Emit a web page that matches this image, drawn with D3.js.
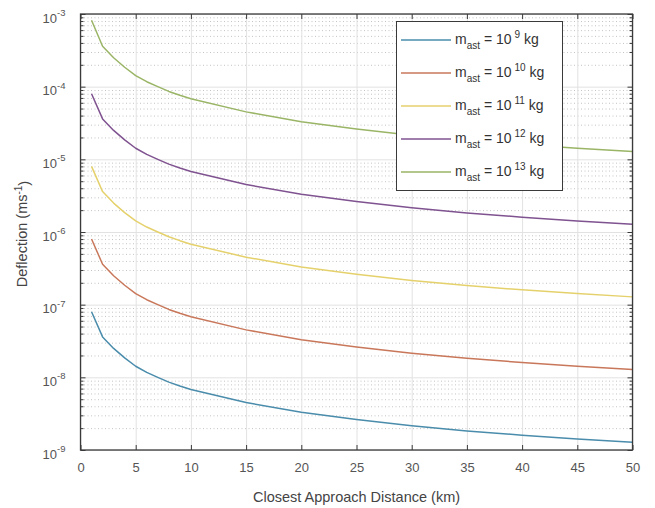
<!DOCTYPE html>
<html>
<head>
<meta charset="utf-8">
<script src="https://cdn.jsdelivr.net/npm/d3@7"></script>
<style>
  body { margin: 0; background: #fff; }
  svg { font-family: "Liberation Sans", Arial, sans-serif; }
  .tick text { fill: #555; font-size: 13px; }
</style>
</head>
<body>
<div class="wrapper"></div>
<script>
var width = 655,
  height = 508;
var margin = { left: 80.5, right: 22.5, top: 14, bottom: 58 };

// closest approach distance (km)
var distance = [1, 2, 3, 4, 5, 6, 7, 8, 9, 10, 15, 20, 25, 30, 35, 40, 45, 50];

// deflection (m/s), one array per asteroid mass
var m9 = [8.0e-8, 3.6e-8, 2.5e-8, 1.85e-8, 1.42e-8, 1.17e-8, 1.0e-8, 8.6e-9, 7.6e-9, 6.8e-9,
  4.5e-9, 3.3e-9, 2.62e-9, 2.15e-9, 1.83e-9, 1.6e-9, 1.42e-9, 1.28e-9];
var m10 = [8.0e-7, 3.6e-7, 2.5e-7, 1.85e-7, 1.42e-7, 1.17e-7, 1.0e-7, 8.6e-8, 7.6e-8, 6.8e-8,
  4.5e-8, 3.3e-8, 2.62e-8, 2.15e-8, 1.83e-8, 1.6e-8, 1.42e-8, 1.28e-8];
var m11 = [8.0e-6, 3.6e-6, 2.5e-6, 1.85e-6, 1.42e-6, 1.17e-6, 1.0e-6, 8.6e-7, 7.6e-7, 6.8e-7,
  4.5e-7, 3.3e-7, 2.62e-7, 2.15e-7, 1.83e-7, 1.6e-7, 1.42e-7, 1.28e-7];
var m12 = [8.0e-5, 3.6e-5, 2.5e-5, 1.85e-5, 1.42e-5, 1.17e-5, 1.0e-5, 8.6e-6, 7.6e-6, 6.8e-6,
  4.5e-6, 3.3e-6, 2.62e-6, 2.15e-6, 1.83e-6, 1.6e-6, 1.42e-6, 1.28e-6];
var m13 = [8.2e-4, 3.6e-4, 2.5e-4, 1.85e-4, 1.42e-4, 1.17e-4, 1.0e-4, 8.6e-5, 7.6e-5, 6.8e-5,
  4.5e-5, 3.3e-5, 2.62e-5, 2.15e-5, 1.83e-5, 1.6e-5, 1.42e-5, 1.28e-5];

var seriesNames = ["9", "10", "11", "12", "13"];
var seriesValues = [m9, m10, m11, m12, m13];
var colors = ["#4a8cab", "#c9775a", "#e5d16c", "#7f5290", "#9ab566"];

var xTicks = [0, 5, 10, 15, 20, 25, 30, 35, 40, 45, 50];
var yDecades = [1e-9, 1e-8, 1e-7, 1e-6, 1e-5, 1e-4, 1e-3];
var yExponents = ["-9", "-8", "-7", "-6", "-5", "-4", "-3"];

var svg = d3.select(".wrapper").append("svg")
  .attr("width", width)
  .attr("height", height);

var x = d3.scaleLinear().domain([0, 50]).range([margin.left, width - margin.right]);
var y = d3.scaleLog().domain([1e-9, 1e-3]).range([height - margin.bottom, margin.top]);

var plotW = width - margin.left - margin.right;
var plotH = height - margin.top - margin.bottom;

// minor y values, 2..9 times each decade
var yMinor = [];
yDecades.slice(0, -1).forEach(d => {
  for (var k = 2; k <= 9; k++) yMinor.push(d * k);
});

// Minor grid, dotted
svg.append("g")
  .attr("transform", `translate(${margin.left},0)`)
  .call(d3.axisLeft(y).tickValues(yMinor).tickSize(-plotW).tickFormat(""))
  .call(g => g.select(".domain").remove())
  .call(g => g.selectAll("line").attr("stroke", "#c4c4c4").attr("stroke-dasharray", "1,2.5"));

// Major grid
svg.append("g")
  .attr("transform", `translate(${margin.left},0)`)
  .call(d3.axisLeft(y).tickValues(yDecades).tickSize(-plotW).tickFormat(""))
  .call(g => g.select(".domain").remove())
  .call(g => g.selectAll("line").attr("stroke", "#e2e2e2"));

svg.append("g")
  .attr("transform", `translate(0,${height - margin.bottom})`)
  .call(d3.axisBottom(x).tickValues(xTicks).tickSize(-plotH).tickFormat(""))
  .call(g => g.select(".domain").remove())
  .call(g => g.selectAll("line").attr("stroke", "#e2e2e2"));

// Lines
var line = d3.line()
  .x((d, i) => x(distance[i]))
  .y(d => y(d));

svg.append("g").selectAll("path")
  .data(seriesValues)
  .join("path")
  .attr("fill", "none")
  .attr("stroke", (d, i) => colors[i])
  .attr("stroke-width", 1.5)
  .attr("stroke-linejoin", "round")
  .attr("d", line);

// Axes with inward ticks
var axisColor = "#3a3a3a";

svg.append("g")
  .attr("transform", `translate(0,${height - margin.bottom})`)
  .call(d3.axisBottom(x).tickValues(xTicks).tickSize(-5).tickSizeOuter(0).tickPadding(13))
  .call(g => g.select(".domain").remove())
  .call(g => g.selectAll("line").attr("stroke", axisColor));

svg.append("g")
  .attr("transform", `translate(0,${margin.top})`)
  .call(d3.axisTop(x).tickValues(xTicks).tickSize(-5).tickFormat(""))
  .call(g => g.select(".domain").remove())
  .call(g => g.selectAll("line").attr("stroke", axisColor));

var yAxisG = svg.append("g")
  .attr("transform", `translate(${margin.left},0)`)
  .call(d3.axisLeft(y).tickValues(yDecades).tickSize(-5).tickPadding(14).tickFormat(""))
  .call(g => g.select(".domain").remove())
  .call(g => g.selectAll("line").attr("stroke", axisColor));

yAxisG.selectAll(".tick text").each(function(d, i) {
  var t = d3.select(this).attr("dy", "0.62em").attr("x", -15);
  t.append("tspan").text("10");
  t.append("tspan").attr("dy", "-0.7em").style("font-size", "9.5px").text(yExponents[i]);
});

svg.append("g")
  .attr("transform", `translate(${margin.left},0)`)
  .call(d3.axisLeft(y).tickValues(yMinor).tickSize(-3).tickFormat(""))
  .call(g => g.select(".domain").remove())
  .call(g => g.selectAll("line").attr("stroke", axisColor));

svg.append("g")
  .attr("transform", `translate(${width - margin.right},0)`)
  .call(d3.axisRight(y).tickValues(yDecades).tickSize(-5).tickFormat(""))
  .call(g => g.select(".domain").remove())
  .call(g => g.selectAll("line").attr("stroke", axisColor));

svg.append("g")
  .attr("transform", `translate(${width - margin.right},0)`)
  .call(d3.axisRight(y).tickValues(yMinor).tickSize(-3).tickFormat(""))
  .call(g => g.select(".domain").remove())
  .call(g => g.selectAll("line").attr("stroke", axisColor));

// Box
svg.append("rect")
  .attr("x", margin.left)
  .attr("y", margin.top)
  .attr("width", plotW)
  .attr("height", plotH)
  .attr("fill", "none")
  .attr("stroke", axisColor)
  .attr("stroke-width", 1.3);

// Axis labels
svg.append("text")
  .attr("x", x(25))
  .attr("y", 502)
  .attr("text-anchor", "middle")
  .attr("fill", "#444")
  .style("font-size", "14.5px")
  .text("Closest Approach Distance (km)");

var yl = svg.append("text")
  .attr("transform", "translate(27,234) rotate(-90)")
  .attr("text-anchor", "middle")
  .attr("fill", "#444")
  .style("font-size", "14.5px");
yl.append("tspan").text("Deflection (ms");
yl.append("tspan").attr("dy", "-0.5em").style("font-size", "10px").text("-1");
yl.append("tspan").attr("dy", "0.5em").text(")");

// Legend
var legend = svg.append("g");
legend.append("rect")
  .attr("x", 396.5)
  .attr("y", 21.5)
  .attr("width", 166)
  .attr("height", 169)
  .attr("fill", "#fff")
  .attr("stroke", axisColor)
  .attr("stroke-width", 1);

var legendY = d3.scalePoint().domain(seriesNames).range([40, 172]);

var entries = legend.selectAll(".entry")
  .data(seriesNames)
  .join("g")
  .attr("class", "entry")
  .attr("transform", d => `translate(0,${legendY(d)})`);

entries.append("line")
  .attr("x1", 401)
  .attr("x2", 451)
  .attr("stroke", (d, i) => colors[i])
  .attr("stroke-width", 1.5);

entries.each(function(d) {
  var t = d3.select(this).append("text")
    .attr("x", 455)
    .attr("y", 4)
    .attr("fill", "#333")
    .style("font-size", "14px");
  t.append("tspan").text("m");
  t.append("tspan").attr("dy", "5").style("font-size", "10px").text("ast");
  t.append("tspan").attr("dy", "-5").text(" = 10");
  t.append("tspan").attr("dy", "-6").attr("dx", "3").style("font-size", "10px").text(d);
  t.append("tspan").attr("dy", "6").text(" kg");
});
</script>
</body>
</html>
